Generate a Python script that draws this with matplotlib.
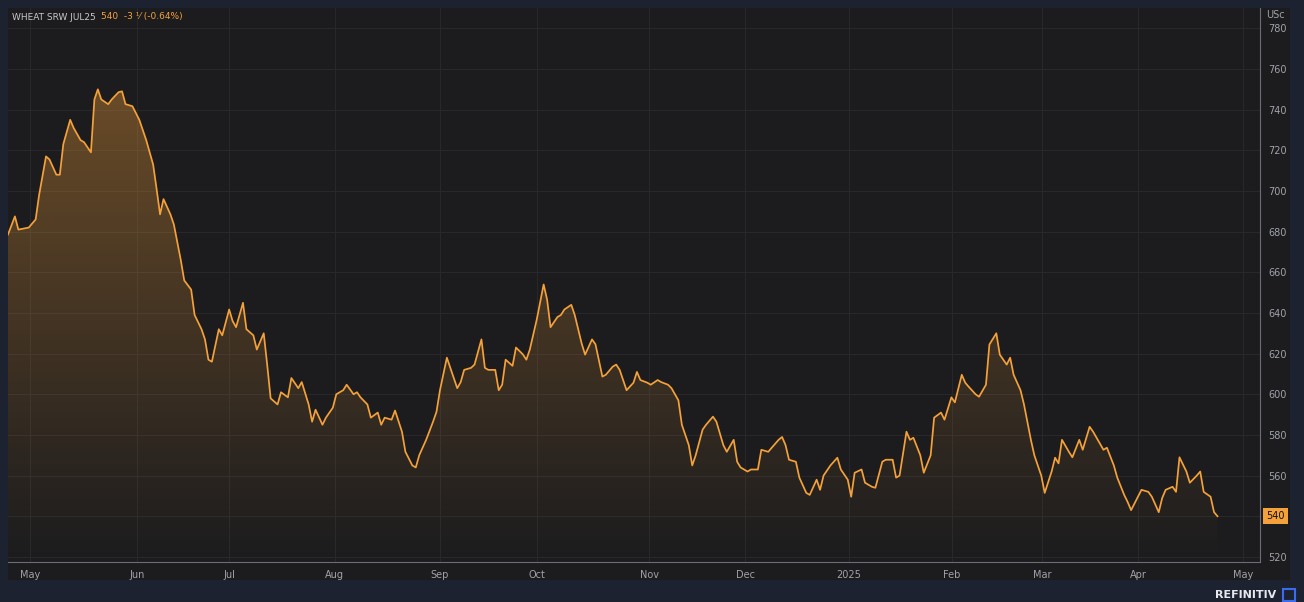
import matplotlib
matplotlib.use("Agg")
import matplotlib.pyplot as plt
import numpy as np
from matplotlib.patches import Rectangle, Polygon

day = [0,2,3,6,8,9,11,12,14,15,16,18,19,21,22,24,25,26,27,29,30,32,33,34,36,38,40,42,43,44,45,47,48,50,51,53,54,56,57,58,59,61,62,64,65,66,68,69,71,72,74,75,76,78,79,81,82,84,85,87,88,89,91,92,94,95,97,98,100,101,102,104,105,107,108,109,111,112,114,115,117,118,119,121,123,124,125,127,128,130,131,132,134,135,137,138,139,141,142,143,144,146,147,149,150,151,153,155,156,157,159,160,161,163,164,166,167,169,170,172,173,175,176,177,179,181,182,183,185,186,188,189,191,192,194,195,197,198,199,201,202,204,205,207,208,210,211,212,214,215,217,218,220,221,223,224,225,226,228,229,231,232,234,235,236,238,240,241,243,244,245,247,248,250,251,253,254,256,257,258,260,261,262,264,265,267,268,270,271,273,274,276,277,278,280,281,283,284,286,287,289,290,291,293,294,296,297,299,300,302,303,304,305,307,308,310,311,313,314,315,317,318,320,321,323,324,325,327,328,330,331,333,334,335,337,338,339,341,342,344,345,346,348,349,350]
price = [678.6,687.5,681,682,686,698,717,715.5,708,708,723,735,731,725,724,719,745,750,745,742.7,745,748.6,749,742.7,741.7,735,725,713,701,688.5,696,688.5,683.5,666,656,651.5,639,632,627,617,616,632,629,641.7,636,633,645,632,629,622,630,614.6,598,595,601,598.5,608,603,606,595,586.5,592.4,585,588.5,593.4,600,602,604.7,600,601,598.5,595,588.5,591,585,588.5,587.5,592,581.6,571.7,565,564,570,577.6,586.5,591.4,602,618,613,603,606,612,613,614.6,627,613,612,612,602,604.7,617,614,623,619.6,617,622,636.7,654,646.6,633,638,639,641.7,644,639,625,619.5,627,624.6,608.7,609.6,613.6,614.6,612,602,605.7,611,607,605.7,604.7,607,606,604.7,603,597,585,575,565,570,582.6,585,589,586.5,575,571.7,577.6,566.8,564,562,563,563,572.7,571.7,573.7,577.6,579,575,567.8,566.8,559,551.5,550.5,558,553,560,565,568.8,563,558,549.6,561.4,563,556.5,554.5,554,566.8,567.8,567.8,559,560,581.6,577.6,578.6,570,561.4,570,588.5,591,587.5,598.5,596,609.6,605.7,603.7,600,598.8,604.7,624.5,630,619.5,614.6,618,609.6,602,595,577.6,570,560,551.5,562,568.8,566,577.6,571.7,569,577.6,572.7,584,581.6,578.6,572.7,573.7,565,559,550.5,547,543,549.6,553,552,549.6,542,549,553,554.5,552,569,562,556.5,560,562,552,549.6,542,540]
month_pos = [6.4,37.3,64,94.6,125,153,185.5,213.3,243.4,273.2,299.2,327,357.4]
month_lab = ["May","Jun","Jul","Aug","Sep","Oct","Nov","Dec","2025","Feb","Mar","Apr","May"]
yticks = list(range(520,781,20))
last = price[-1]

W,H = 1304,602
fig = plt.figure(figsize=(W/100,H/100),dpi=100)
fig.patch.set_facecolor("#1d2230")
bg = fig.add_axes([8/W,22/H,1282/W,572/H],zorder=0)
bg.set_facecolor("#1c1c1e"); bg.set_xticks([]); bg.set_yticks([])
for s in bg.spines.values(): s.set_visible(False)
ax = fig.add_axes([8/W,40/H,1252/W,554/H],zorder=1)
ax.set_facecolor("none")
ax.set_xlim(0,362.3); ax.set_ylim(517.5,790)
orange="#f5a13a"
for y in yticks:
    ax.axhline(y,color="#28282b",lw=0.8,zorder=1)
for m in month_pos:
    ax.axvline(m,color="#28282b",lw=0.8,zorder=1)
x=np.array(day,float); p=np.array(price)
poly = Polygon(np.column_stack([np.r_[x,x[-1],x[0]],np.r_[p,517.5,517.5]]),closed=True,facecolor="none",edgecolor="none")
ax.add_patch(poly)
grad = np.zeros((256,1,4)); grad[...,0]=0.96; grad[...,1]=0.63; grad[...,2]=0.23
grad[...,3]=np.linspace(0.36,0.0,256)[:,None]
im = ax.imshow(grad,extent=[0,362.3,517.5,750],origin="upper",aspect="auto",zorder=2)
im.set_clip_path(poly)
ax.plot(x,p,color=orange,lw=1.25,zorder=3)
for s in ax.spines.values(): s.set_visible(False)
ax.spines["right"].set_visible(True); ax.spines["right"].set_color("#6a6d75")
ax.spines["bottom"].set_visible(True); ax.spines["bottom"].set_color("#6a6d75")
ax.yaxis.tick_right()
ax.set_yticks(yticks); ax.set_yticklabels(["" if v==round(last) else str(v) for v in yticks])
ax.set_xticks(month_pos); ax.set_xticklabels(month_lab)
ax.tick_params(colors="#a0a3aa",labelsize=7,length=0,pad=6)
fig.text(1266/W,(602-15)/H,"USc",color="#a0a3aa",fontsize=7,va="center")
ax.text(1.005,last,f"{last:.0f}",transform=ax.get_yaxis_transform(),color="#111",fontsize=7,va="center",
        bbox=dict(boxstyle="square,pad=0.3",fc=orange,ec="none"),zorder=5)
fig.text(12/W,(602-17)/H,"WHEAT SRW JUL25",color="#c8c8cc",fontsize=6.5,va="center")
fig.text(101/W,(602-17)/H,"540  -3 \u215f (-0.64%)",color=orange,fontsize=6.5,va="center")
fig.text(1276/W,(602-595)/H,"REFINITIV",color="#e6e8ee",fontsize=8,fontweight="bold",ha="right",va="center")
fig.patches.append(Rectangle((1283/W,1/H),12/W,12/H,transform=fig.transFigure,facecolor="none",edgecolor="#3b6cf0",lw=1.5))
fig.savefig("out.png",dpi=100,facecolor=fig.get_facecolor())
